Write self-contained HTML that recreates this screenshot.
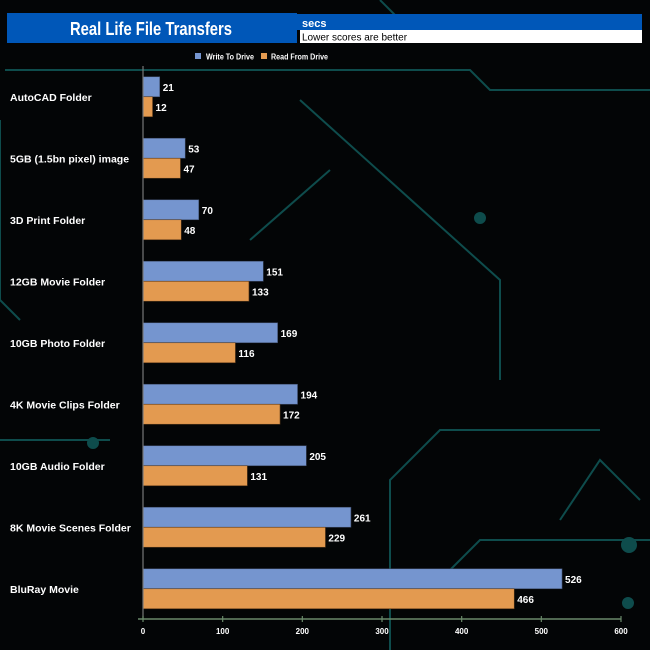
<!DOCTYPE html>
<html><head><meta charset="utf-8"><style>
body{margin:0;background:#000;}
svg{display:block;font-family:"Liberation Sans",Arial,sans-serif;}
</style></head><body>
<svg id="c" width="650" height="650" viewBox="0 0 650 650">
<rect width="650" height="650" fill="#030506"/>
<g stroke="#0e4c4c" stroke-width="2" fill="none">
<path d="M5 70 H470 L490 90 H650"/><path d="M0 120 V300 L20 320"/><path d="M380 0 L410 30"/>
<path d="M390 650 V480 L440 430 H600"/><path d="M300 100 L500 280 V380"/><path d="M250 240 L330 170"/>
<path d="M560 520 L600 460 L640 500"/><path d="M420 600 L480 540 H650"/><path d="M0 440 H110"/>
<circle cx="629" cy="545" r="7" fill="#0e4c4c"/><circle cx="628" cy="603" r="5" fill="#0e4c4c"/>
<circle cx="93" cy="443" r="5" fill="#0e4c4c"/><circle cx="480" cy="218" r="5" fill="#0e4c4c"/>
</g>
<rect x="7" y="13" width="290" height="30" fill="#0057b8"/>
<text x="70" y="35" fill="#fff" font-size="18" font-weight="bold" textLength="162" lengthAdjust="spacingAndGlyphs">Real Life File Transfers</text>
<rect x="297" y="14" width="345" height="16" fill="#0057b8"/>
<text x="302" y="27" fill="#fff" font-size="11" font-weight="bold">secs</text>
<rect x="300" y="30" width="342" height="13" fill="#fff"/>
<text x="302" y="40.5" fill="#000" font-size="10">Lower scores are better</text>
<g font-size="8" font-weight="bold" fill="#fff">
<rect x="195" y="53" width="6" height="6" fill="#7595cf"/>
<text x="206" y="59.5" textLength="48" lengthAdjust="spacingAndGlyphs">Write To  Drive</text>
<rect x="261" y="53" width="6" height="6" fill="#e39a50"/>
<text x="271" y="59.5" textLength="57" lengthAdjust="spacingAndGlyphs">Read From  Drive</text>
</g>
<g id="plot"></g>
</svg>
<script>
const categories=["AutoCAD Folder","5GB (1.5bn pixel) image","3D Print Folder","12GB Movie Folder","10GB Photo Folder","4K Movie Clips Folder","10GB Audio Folder","8K Movie Scenes Folder","BluRay Movie"];
const writeValues=[21,53,70,151,169,194,205,261,526];
const readValues=[12,47,48,133,116,172,131,229,466];
const ticks=[0,100,200,300,400,500,600];
const NS="http://www.w3.org/2000/svg";
const g=document.getElementById('plot');
const x0=143,x1=621,xmax=600,top0=66,pitch=61.5,bh=20,axisY=619;
const xs=v=>x0+v/xmax*(x1-x0);
const cy=i=>top0+pitch*(i+0.5);
function mk(t,a){const e=document.createElementNS(NS,t);for(const k in a)e.setAttribute(k,a[k]);g.appendChild(e);return e;}
categories.forEach((c,i)=>{
  const y=cy(i);
  let t=mk('text',{x:10,y:y+4,fill:'#fff','font-size':10.5,'font-weight':'bold'});t.textContent=c;
  
  
  let b=mk('rect',{x:x0,y:y-bh,width:xs(writeValues[i])-x0,height:bh,fill:'#7595cf',stroke:'#3c4a66','stroke-width':0.6});
  
  
  let l=mk('text',{x:xs(writeValues[i])+3,y:y-6,fill:'#fff','font-size':10,'font-weight':'bold'});l.textContent=writeValues[i];
  
  
  let r=mk('rect',{x:x0,y:y,width:xs(readValues[i])-x0,height:bh,fill:'#e39a50',stroke:'#5a3a1a','stroke-width':0.6});
  
  
  let l2=mk('text',{x:xs(readValues[i])+3,y:y+14,fill:'#fff','font-size':10,'font-weight':'bold'});l2.textContent=readValues[i];
  
  
});
let ya=mk('line',{x1:x0,y1:66,x2:x0,y2:axisY,stroke:'#777','stroke-width':1.2});


let xa=mk('line',{x1:138,y1:axisY,x2:x1,y2:axisY,stroke:'#6a8a6a','stroke-width':1.5});


ticks.forEach(v=>{
  let tk=mk('line',{x1:xs(v),y1:axisY-3,x2:xs(v),y2:axisY+3,stroke:'#6a8a6a','stroke-width':1.2});
  
  
  let t=mk('text',{x:xs(v),y:634,fill:'#fff','font-size':8,'font-weight':'bold','text-anchor':'middle'});t.textContent=v;
  
  
});
</script>
</body></html>
